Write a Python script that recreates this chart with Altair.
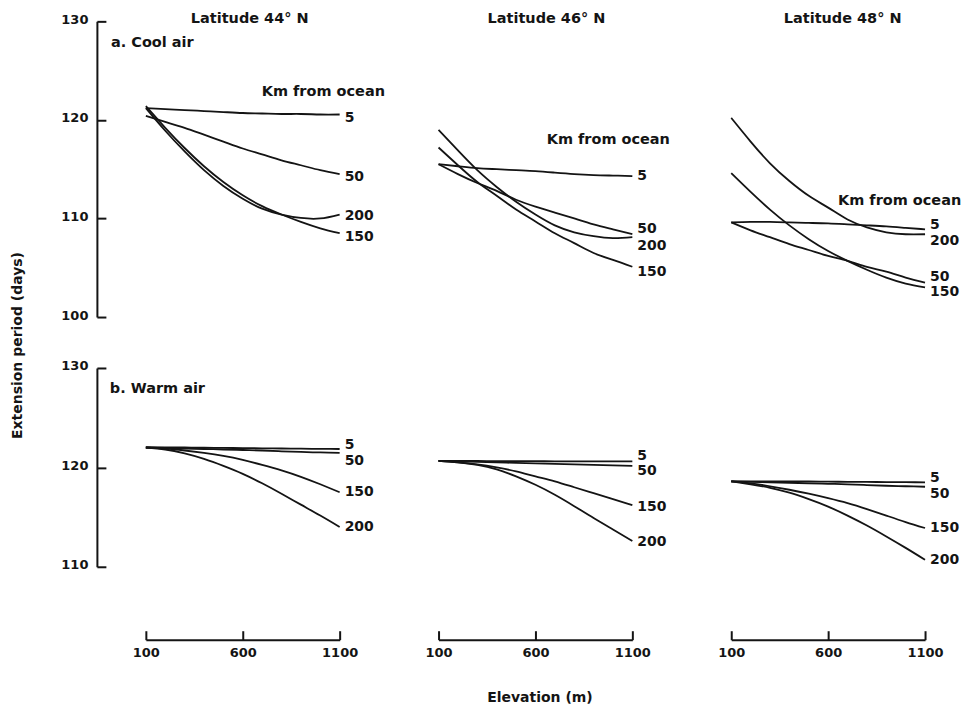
import altair as alt
import pandas as pd

# ---------------- data ----------------
elevation = [100, 200, 300, 400, 500, 600, 700, 800, 900, 1000, 1100]
km_from_ocean = ["5", "50", "150", "200"]
elev_ticks = [100, 600, 1100]
cool_ticks = [100, 110, 120, 130]
warm_ticks = [110, 120, 130]

# a. Cool air
cool44_5 = [121.2, 121.1, 121.0, 120.9, 120.8, 120.7, 120.65, 120.6, 120.6, 120.55, 120.55]
cool44_50 = [120.4, 119.8, 119.2, 118.5, 117.8, 117.1, 116.5, 115.9, 115.4, 114.9, 114.5]
cool44_150 = [121.4, 119.2, 117.15, 115.3, 113.7, 112.35, 111.25, 110.4, 109.65, 109.0, 108.5]
cool44_200 = [121.2, 118.9, 116.8, 114.9, 113.3, 112.0, 111.0, 110.4, 110.05, 110.0, 110.4]

cool46_5 = [115.5, 115.3, 115.1, 115.0, 114.9, 114.8, 114.65, 114.5, 114.4, 114.35, 114.3]
cool46_50 = [115.5, 114.5, 113.6, 112.8, 111.9, 111.2, 110.6, 110.0, 109.4, 108.9, 108.4]
cool46_150 = [117.2, 115.4, 113.7, 112.3, 110.9, 109.7, 108.5, 107.5, 106.5, 105.8, 105.1]
cool46_200 = [119.0, 116.9, 114.9, 113.2, 111.7, 110.4, 109.3, 108.6, 108.2, 108.0, 108.1]

cool48_5 = [109.6, 109.65, 109.65, 109.6, 109.55, 109.5, 109.4, 109.3, 109.2, 109.05, 108.9]
cool48_50 = [109.6, 108.8, 108.1, 107.4, 106.8, 106.2, 105.7, 105.1, 104.6, 104.0, 103.5]
cool48_150 = [114.6, 112.7, 110.9, 109.3, 107.9, 106.7, 105.7, 104.8, 104.0, 103.4, 103.0]
cool48_200 = [120.2, 117.8, 115.6, 113.8, 112.3, 111.1, 109.9, 109.1, 108.6, 108.4, 108.4]

# b. Warm air
warm44_5 = [122.0, 122.0, 122.0, 121.98, 121.96, 121.94, 121.92, 121.9, 121.88, 121.86, 121.85]
warm44_50 = [122.0, 121.95, 121.9, 121.85, 121.8, 121.75, 121.7, 121.62, 121.55, 121.5, 121.45]
warm44_150 = [122.0, 121.9, 121.7, 121.45, 121.15, 120.75, 120.25, 119.7, 119.05, 118.3, 117.5]
warm44_200 = [122.0, 121.8, 121.4, 120.85, 120.15, 119.35, 118.4, 117.35, 116.25, 115.15, 114.0]

warm46_5 = [120.65, 120.65, 120.64, 120.63, 120.62, 120.62, 120.61, 120.6, 120.6, 120.6, 120.6]
warm46_50 = [120.65, 120.6, 120.55, 120.5, 120.45, 120.4, 120.35, 120.3, 120.25, 120.2, 120.15]
warm46_150 = [120.65, 120.5, 120.3, 120.0, 119.6, 119.1, 118.6, 118.0, 117.4, 116.8, 116.2]
warm46_200 = [120.65, 120.5, 120.25, 119.8, 119.1, 118.25, 117.25, 116.1, 114.9, 113.75, 112.6]

warm48_5 = [118.6, 118.6, 118.6, 118.6, 118.58, 118.56, 118.55, 118.54, 118.52, 118.51, 118.5]
warm48_50 = [118.6, 118.55, 118.5, 118.45, 118.4, 118.35, 118.3, 118.22, 118.15, 118.1, 118.05]
warm48_150 = [118.6, 118.4, 118.1, 117.75, 117.35, 116.9, 116.4, 115.8, 115.15, 114.5, 113.9]
warm48_200 = [118.6, 118.3, 117.95, 117.45, 116.8, 116.05, 115.15, 114.15, 113.05, 111.9, 110.7]

# where the curve labels (5, 50, 150, 200) sit at the right end
cool44_label_y = [120.2, 114.2, 108.1, 110.2]
cool46_label_y = [114.3, 108.95, 104.6, 107.2]
cool48_label_y = [109.35, 104.05, 102.5, 107.7]
warm44_label_y = [122.26, 120.65, 117.5, 114.0]
warm46_label_y = [121.12, 119.6, 116.0, 112.5]
warm48_label_y = [118.97, 117.3, 113.9, 110.7]

# in-panel annotations (text, elevation, days)
cool44_notes = (["a. Cool air", "Km from ocean"], [-80, 698], [127.8, 122.8])
cool46_notes = (["Km from ocean"], [658], [118.0])
cool48_notes = (["Km from ocean"], [651], [111.8])
warm44_notes = (["b. Warm air"], [-86], [127.9])

# column headers
header_text = ["Latitude 44° N", "Latitude 46° N", "Latitude 48° N"]
header_elev = [636, 657, 675]
header_days = [129.83, 129.83, 129.83]

# ---------------- styling ----------------
FONT = "DejaVu Sans"
INK = "#141414"
W = 194
H_COOL = 296
H_WARM = 199
Y_OFF = 49
X_OFF = 73


def panel(series, label_y, ydomain, height, yvals, notes=None, header=None,
          left_axis=False, y_title=False, bottom_axis=False, x_title=False):
    rows = []
    for k, vals in zip(km_from_ocean, series):
        for e, v in zip(elevation, vals):
            rows.append({"km": k, "elev": e, "days": v})
    line_df = pd.DataFrame(rows)
    lab_df = pd.DataFrame({"km": km_from_ocean,
                           "elev": [elevation[-1]] * len(km_from_ocean),
                           "days": label_y})
    xs = alt.Scale(domain=[elevation[0], elevation[-1]], nice=False, zero=False)
    ys = alt.Scale(domain=ydomain, nice=False, zero=False)

    common_lab = dict(labelFont=FONT, labelFontSize=13, labelFontWeight="bold",
                      labelColor=INK, grid=False, labelFlush=False, format="d")

    if left_axis:
        ykw = dict(orient="left", offset=Y_OFF, values=yvals, ticks=False, tickSize=0,
                   domain=True, domainWidth=2, domainColor=INK, labelPadding=9,
                   labelOffset=-2, **common_lab)
        if y_title:
            ykw.update(title="Extension period (days)", titleX=-72, titleY=324,
                       titleAngle=270, titleAlign="center", titleBaseline="bottom",
                       titleFont=FONT, titleFontSize=14, titleFontWeight="bold",
                       titleColor=INK)
        else:
            ykw.update(title=None)
        y_main = alt.Axis(**ykw)
        y_tick = alt.Axis(orient="right", offset=-(W + Y_OFF), values=yvals,
                          labels=False, domain=False, ticks=True, tickSize=9,
                          tickWidth=2, tickColor=INK, grid=False, title=None)
    else:
        y_main = None
        y_tick = None

    if bottom_axis:
        xkw = dict(orient="bottom", offset=X_OFF, values=elev_ticks, ticks=False,
                   tickSize=0, domain=True, domainWidth=2, domainColor=INK,
                   labelPadding=7, **common_lab)
        if x_title:
            xkw.update(title="Elevation (m)", titleX=101, titleY=58,
                       titleAlign="center", titleBaseline="middle",
                       titleFont=FONT, titleFontSize=14, titleFontWeight="bold",
                       titleColor=INK)
        else:
            xkw.update(title=None)
        x_main = alt.Axis(**xkw)
        x_tick = alt.Axis(orient="top", offset=-(height + X_OFF), values=elev_ticks,
                          labels=False, domain=False, ticks=True, tickSize=9,
                          tickWidth=2, tickColor=INK, grid=False, title=None)
    else:
        x_main = None
        x_tick = None

    lines = alt.Chart(line_df).mark_line(
        color=INK, strokeWidth=1.8, interpolate="natural"
    ).encode(
        x=alt.X("elev:Q", scale=xs, axis=x_main),
        y=alt.Y("days:Q", scale=ys, axis=y_main),
        detail="km:N",
    )
    labels = alt.Chart(lab_df).mark_text(
        align="left", baseline="middle", dx=5, font=FONT, fontSize=14,
        fontWeight="bold", color=INK
    ).encode(
        x=alt.X("elev:Q", scale=xs, axis=x_tick),
        y=alt.Y("days:Q", scale=ys, axis=y_tick),
        text="km:N",
    )
    layers = [lines, labels]
    if notes is not None:
        ndf = pd.DataFrame({"t": notes[0], "elev": notes[1], "days": notes[2]})
        layers.append(alt.Chart(ndf).mark_text(
            align="left", baseline="middle", font=FONT, fontSize=14.5,
            fontWeight="bold", color=INK
        ).encode(
            x=alt.X("elev:Q", scale=xs, axis=None),
            y=alt.Y("days:Q", scale=ys, axis=None),
            text="t:N",
        ))
    if header is not None:
        hdf = pd.DataFrame({"t": [header[0]], "elev": [header[1]], "days": [header[2]]})
        layers.append(alt.Chart(hdf).mark_text(
            align="center", baseline="alphabetic", font=FONT, fontSize=14.5,
            fontWeight="bold", color=INK
        ).encode(
            x=alt.X("elev:Q", scale=xs, axis=None),
            y=alt.Y("days:Q", scale=ys, axis=None),
            text="t:N",
        ))
    return alt.layer(*layers).resolve_axis(
        x="independent", y="independent"
    ).properties(width=W, height=height)


p1 = panel([cool44_5, cool44_50, cool44_150, cool44_200], cool44_label_y, [100, 130],
           H_COOL, cool_ticks, notes=cool44_notes,
           header=(header_text[0], header_elev[0], header_days[0]),
           left_axis=True, y_title=True)
p2 = panel([cool46_5, cool46_50, cool46_150, cool46_200], cool46_label_y, [100, 130],
           H_COOL, cool_ticks, notes=cool46_notes,
           header=(header_text[1], header_elev[1], header_days[1]))
p3 = panel([cool48_5, cool48_50, cool48_150, cool48_200], cool48_label_y, [100, 130],
           H_COOL, cool_ticks, notes=cool48_notes,
           header=(header_text[2], header_elev[2], header_days[2]))
p4 = panel([warm44_5, warm44_50, warm44_150, warm44_200], warm44_label_y, [110, 130],
           H_WARM, warm_ticks, notes=warm44_notes, left_axis=True, bottom_axis=True)
p5 = panel([warm46_5, warm46_50, warm46_150, warm46_200], warm46_label_y, [110, 130],
           H_WARM, warm_ticks, bottom_axis=True, x_title=True)
p6 = panel([warm48_5, warm48_50, warm48_150, warm48_200], warm48_label_y, [110, 130],
           H_WARM, warm_ticks, bottom_axis=True)

chart = alt.concat(
    p1, p2, p3, p4, p5, p6, columns=3,
    spacing={"row": 51, "column": 99}, bounds="flush"
).properties(
    padding={"left": 11, "top": 10, "right": 2, "bottom": 2},
    background="white",
).configure_view(strokeWidth=0).configure_axis(grid=False)

chart.save("out.html", embed_options={"renderer": "svg", "actions": False})
